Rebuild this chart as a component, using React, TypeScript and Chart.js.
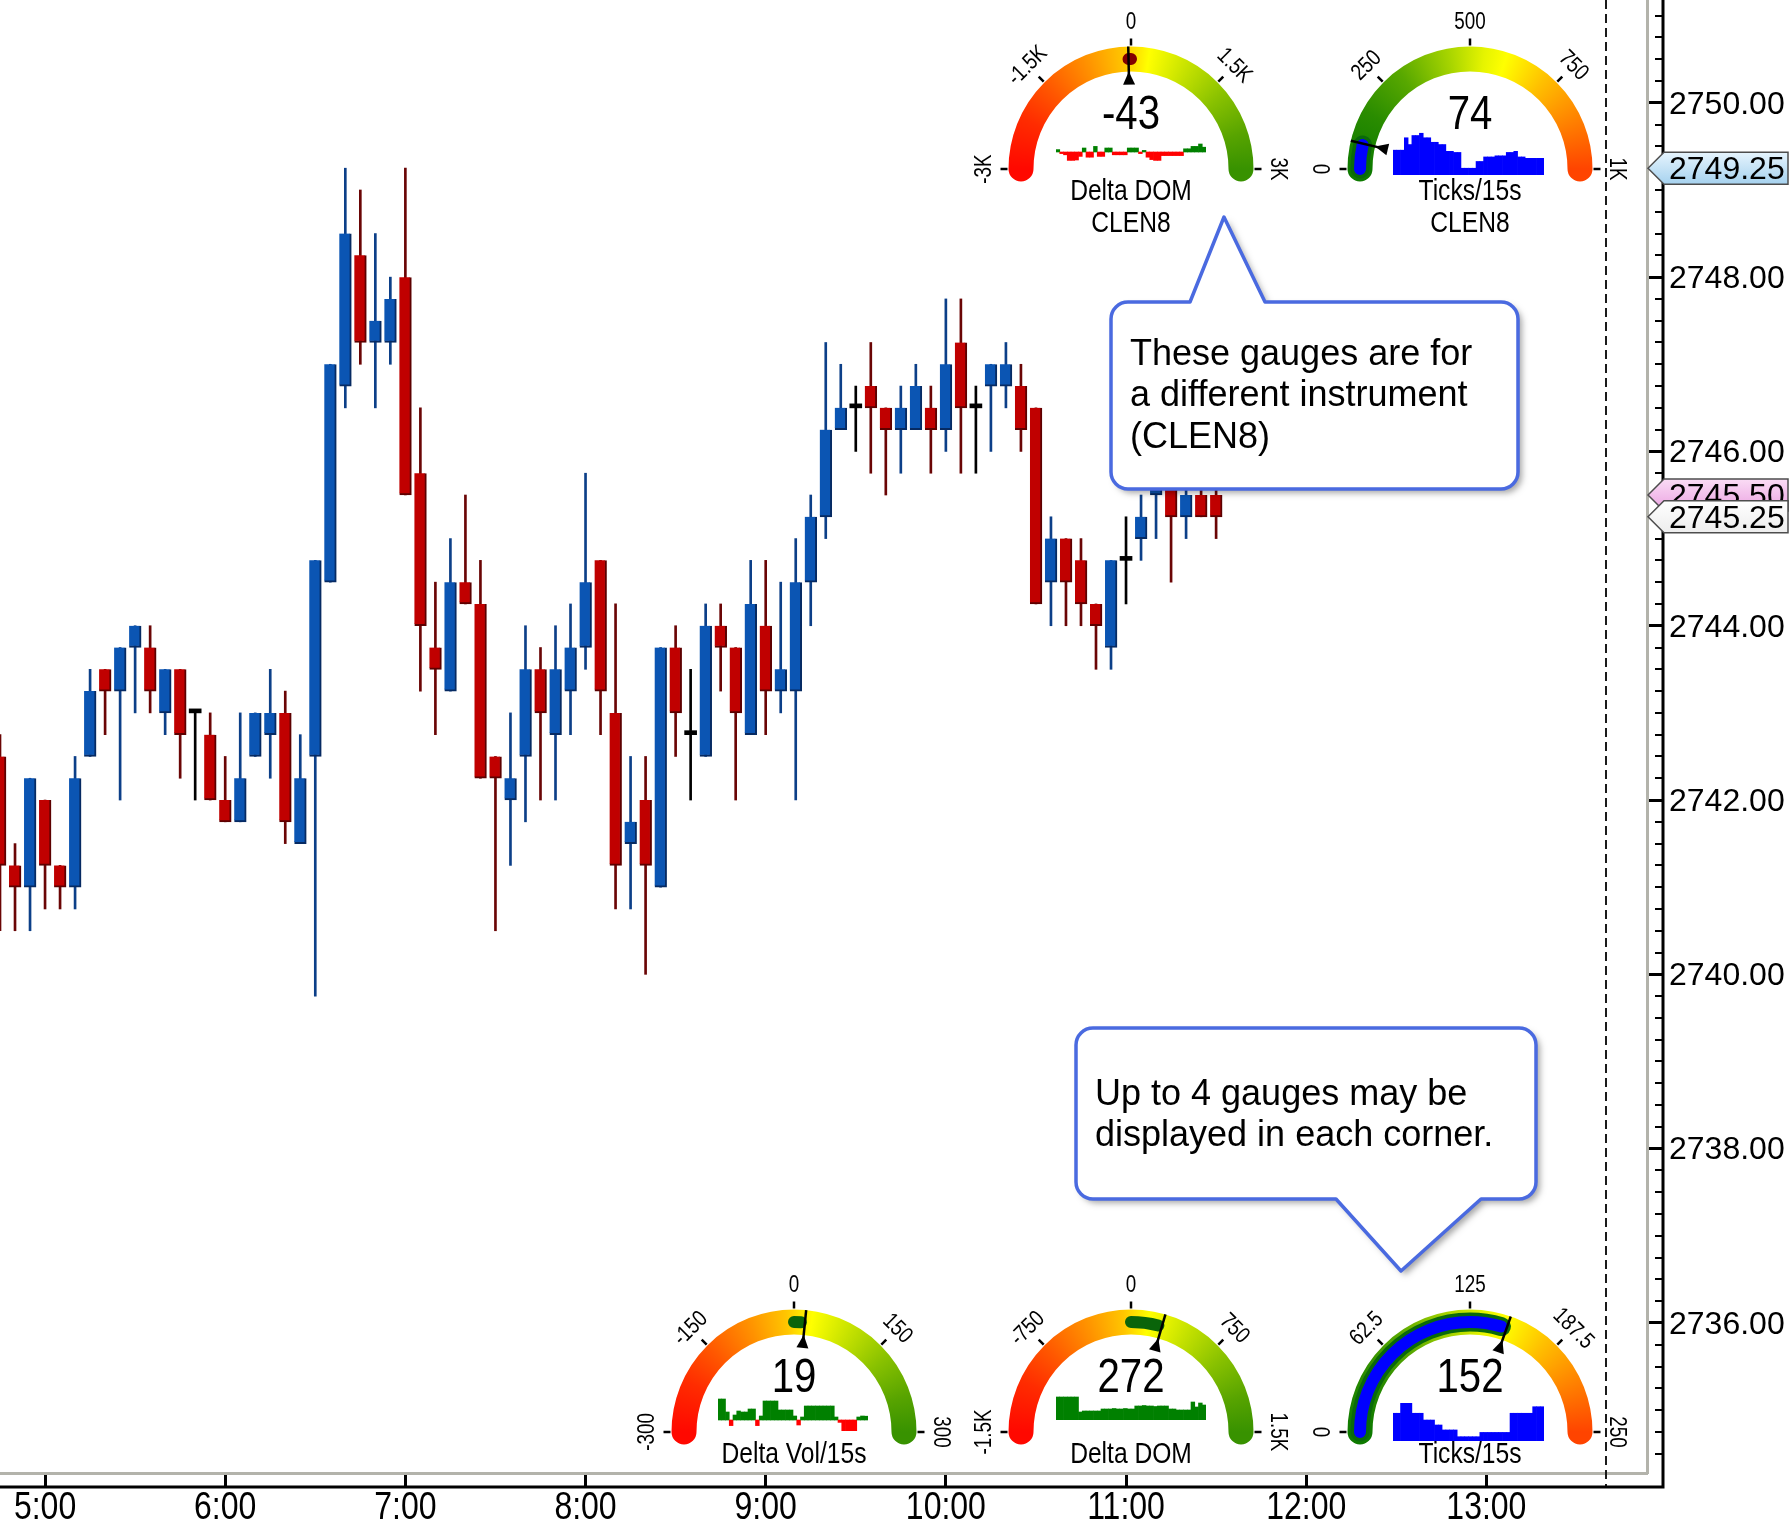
import React, { useEffect, useRef } from 'react';
import { Chart, registerables } from 'chart.js';

Chart.register(...registerables);

// ---------------- candle data (5-minute bars) ----------------
const times = ['4:45','4:50','4:55','5:00','5:05','5:10','5:15','5:20','5:25','5:30','5:35','5:40','5:45','5:50','5:55','6:00','6:05','6:10','6:15','6:20','6:25','6:30','6:35','6:40','6:45','6:50','6:55','7:00','7:05','7:10','7:15','7:20','7:25','7:30','7:35','7:40','7:45','7:50','7:55','8:00','8:05','8:10','8:15','8:20','8:25','8:30','8:35','8:40','8:45','8:50','8:55','9:00','9:05','9:10','9:15','9:20','9:25','9:30','9:35','9:40','9:45','9:50','9:55','10:00','10:05','10:10','10:15','10:20','10:25','10:30','10:35','10:40','10:45','10:50','10:55','11:00','11:05','11:10','11:15','11:20','11:25','11:30'];

const opens = [2742.5,2741.25,2741.0,2742.0,2741.25,2741.0,2742.5,2743.5,2743.25,2743.75,
  2743.75,2743.0,2743.5,2743.0,2742.75,2742.0,2741.75,2742.5,2742.75,2743.0,
  2741.5,2742.5,2744.5,2746.75,2748.25,2747.25,2747.25,2748.0,2745.75,2743.75,
  2743.25,2744.5,2744.25,2742.5,2742.0,2742.5,2743.5,2742.75,2743.25,2743.75,
  2744.75,2743.0,2741.5,2742.0,2741.0,2743.75,2742.75,2742.5,2744.0,2743.75,
  2742.75,2744.0,2743.25,2743.25,2744.5,2745.25,2746.25,2746.5,2746.75,2746.5,
  2746.25,2746.25,2746.5,2746.25,2747.25,2746.5,2746.75,2746.75,2746.75,2746.5,
  2744.5,2745.0,2744.75,2744.25,2743.75,2744.75,2745.0,2745.5,2745.75,2745.25,
  2745.5,2745.5];
const highs = [2742.75,2741.5,2742.25,2742.0,2741.25,2742.5,2743.5,2743.5,2743.75,2744.0,
  2744.0,2743.5,2743.5,2743.0,2743.0,2742.5,2743.0,2743.0,2743.5,2743.25,
  2742.75,2744.75,2747.0,2749.25,2749.0,2748.5,2748.0,2749.25,2746.5,2744.5,
  2745.0,2745.5,2744.75,2742.5,2743.0,2744.0,2743.75,2744.0,2744.25,2745.75,
  2744.75,2744.25,2742.5,2742.5,2743.75,2744.0,2743.5,2744.25,2744.25,2743.75,
  2744.75,2744.75,2744.5,2745.0,2745.5,2747.25,2747.0,2746.75,2747.25,2746.5,
  2746.75,2747.0,2746.75,2747.75,2747.75,2746.75,2747.0,2747.25,2747.0,2746.5,
  2745.25,2745.0,2745.0,2744.25,2744.75,2745.25,2745.5,2746.0,2746.0,2745.75,
  2745.75,2745.75];
const lows = [2740.5,2740.5,2740.5,2740.75,2740.75,2740.75,2742.5,2742.75,2742.0,2743.0,
  2743.0,2742.75,2742.25,2742.0,2742.0,2741.75,2741.75,2742.5,2742.25,2741.5,
  2741.5,2739.75,2744.5,2746.5,2747.0,2746.5,2747.0,2745.5,2743.25,2742.75,
  2743.25,2744.25,2742.25,2740.5,2741.25,2741.75,2742.0,2742.0,2742.75,2743.5,
  2742.75,2740.75,2740.75,2740.0,2741.0,2742.5,2742.0,2742.5,2743.25,2742.0,
  2742.75,2742.75,2743.0,2742.0,2744.0,2745.0,2746.25,2746.0,2745.75,2745.5,
  2745.75,2746.25,2745.75,2746.0,2745.75,2745.75,2746.0,2746.5,2746.0,2744.25,
  2744.0,2744.0,2744.0,2743.5,2743.5,2744.25,2744.75,2745.0,2744.5,2745.0,
  2745.25,2745.0];
const closes = [2741.25,2741.0,2742.25,2741.25,2741.0,2742.25,2743.25,2743.25,2743.75,2744.0,
  2743.25,2743.5,2742.75,2743.0,2742.0,2741.75,2742.25,2743.0,2743.0,2741.75,
  2742.25,2744.75,2747.0,2748.5,2747.25,2747.5,2747.75,2745.5,2744.0,2743.5,
  2744.5,2744.25,2742.25,2742.25,2742.25,2743.5,2743.0,2743.5,2743.75,2744.5,
  2743.25,2741.25,2741.75,2741.25,2743.75,2743.0,2742.75,2744.0,2743.75,2743.0,
  2744.25,2743.25,2743.5,2744.5,2745.25,2746.25,2746.5,2746.5,2746.5,2746.25,
  2746.5,2746.75,2746.25,2747.0,2746.5,2746.5,2747.0,2747.0,2746.25,2744.25,
  2745.0,2744.5,2744.25,2744.0,2744.75,2744.75,2745.25,2745.75,2745.25,2745.5,
  2745.25,2745.25];

const hourTicks = ['5:00','6:00','7:00','8:00','9:00','10:00','11:00','12:00','13:00'];
const priceTicks = [2736, 2738, 2740, 2742, 2744, 2746, 2748, 2750];
const markerPrices = [2749.25, 2745.5, 2745.25];
const sessionEndTime = '13:40';

const callout1Lines = ['These gauges are for', 'a different instrument', '(CLEN8)'];
const callout2Lines = ['Up to 4 gauges may be', 'displayed in each corner.'];

// ---------------- gauge data ----------------
const gaugeTitles = [['Delta DOM', 'CLEN8'], ['Ticks/15s', 'CLEN8'], ['Delta Vol/15s'], ['Delta DOM'], ['Ticks/15s']];
const gaugeMin = [-3000, 0, -300, -1500, 0];
const gaugeMax = [3000, 1000, 300, 1500, 250];
const gaugeTickLabels = [
  ['-3K', '-1.5K', '0', '1.5K', '3K'],
  ['0', '250', '500', '750', '1K'],
  ['-300', '-150', '0', '150', '300'],
  ['-1.5K', '-750', '0', '750', '1.5K'],
  ['0', '62.5', '125', '187.5', '250'],
];
const gaugeValues = [-43, 74, 19, 272, 152];
const gaugeRangeLo = [-43, 0, 0, 0, 0];
const gaugeRangeHi = [0, 70, 12, 240, 148];

const sparkDeltaDomClen8 = [60,-40,-70,-210,-210,-200,-110,100,-130,-130,140,-110,-110,100,100,-70,-70,-70,-70,100,100,100,-40,40,-130,-190,-210,-210,-90,-90,-90,-90,-90,-90,80,80,140,140,200,120];
const sparkTicksClen8 = [110,110,110,165,135,175,175,185,165,165,145,145,135,135,105,105,100,100,30,30,30,30,60,60,80,80,80,85,85,85,100,100,105,80,80,74,74,74,74,74];
const sparkDeltaVol = [105,105,40,-28,25,45,40,40,55,55,-28,20,95,95,95,95,50,50,50,50,20,-25,15,70,70,70,70,70,70,70,70,15,-12,-55,-55,-55,-55,15,20,19];
const sparkDeltaDom = [460,460,460,460,460,460,160,180,180,180,180,180,220,220,220,230,220,220,230,220,220,280,280,290,280,280,270,280,280,280,220,220,200,200,200,200,360,260,340,300];
const sparkTicks = [123,123,167,167,167,123,123,123,93,93,93,71,71,49,49,49,49,19,19,19,19,19,19,38,38,38,38,38,38,38,38,123,123,123,123,123,123,152,152,152];

// ---------------- layout / styles ----------------
const W = 1791, H = 1527;
const X_MIN = 285, X_MAX = 833.5;
const Y_MIN = 2734.278, Y_MAX = 2751.18;
const X_TICK_LEN = 14, Y_TICK_LEN = 16;
const AXIS_GRAY = '#b3b3ab';
const BASE_FONT = '"Liberation Sans", Arial, Helvetica, sans-serif';

const BULL = '#0b55b3', BULL_EDGE = '#062a62', BULL_WICK = '#0c3f88';
const BEAR = '#c00000', BEAR_EDGE = '#5c0000', BEAR_WICK = '#6a0505';

const toMin = (s: string) => { const [h, m] = s.split(':').map(Number); return h * 60 + m; };

let NARROW: string | null | undefined;
function narrowFamily(): string | null {
  if (NARROW !== undefined) return NARROW;
  NARROW = null;
  try {
    const c = document.createElement('canvas').getContext('2d') as CanvasRenderingContext2D;
    const t = 'Delta Vol/15s 0123456789';
    for (const name of ['Liberation Sans Narrow', 'Arial Narrow']) {
      c.font = '40px monospace';
      const a = c.measureText(t).width;
      c.font = `40px "${name}", monospace`;
      const b = c.measureText(t).width;
      if (Math.abs(a - b) > 0.5) { NARROW = `"${name}"`; break; }
    }
  } catch (e) { /* ignore */ }
  return NARROW;
}

function drawNarrow(ctx: any, text: string, x: number, y: number, size: number, rot = 0, align = 'center') {
  const fam = narrowFamily();
  ctx.save();
  ctx.translate(x, y);
  if (rot) ctx.rotate(rot);
  if (fam) {
    ctx.font = `${size}px ${fam}, ${BASE_FONT}`;
  } else {
    ctx.scale(0.82, 1);
    ctx.font = `${size}px ${BASE_FONT}`;
  }
  ctx.fillStyle = '#000';
  ctx.textAlign = align;
  ctx.textBaseline = 'middle';
  ctx.fillText(text, 0, 0);
  ctx.restore();
}

function calloutPath(ctx: any, x0: number, y0: number, x1: number, y1: number, r: number, side: string, b0: number, b1: number, tx: number, ty: number) {
  ctx.beginPath();
  ctx.moveTo(x0 + r, y0);
  if (side === 'top') { ctx.lineTo(b0, y0); ctx.lineTo(tx, ty); ctx.lineTo(b1, y0); }
  ctx.lineTo(x1 - r, y0);
  ctx.arcTo(x1, y0, x1, y0 + r, r);
  ctx.lineTo(x1, y1 - r);
  ctx.arcTo(x1, y1, x1 - r, y1, r);
  if (side === 'bottom') { ctx.lineTo(b1, y1); ctx.lineTo(tx, ty); ctx.lineTo(b0, y1); }
  ctx.lineTo(x0 + r, y1);
  ctx.arcTo(x0, y1, x0, y1 - r, r);
  ctx.lineTo(x0, y0 + r);
  ctx.arcTo(x0, y0, x0 + r, y0, r);
  ctx.closePath();
}

function drawCallout(ctx: any, box: number[], side: string, ptr: number[], lines: string[], textX: number, textY0: number, lineH: number) {
  const [x0, y0, x1, y1] = box;
  const [b0, b1, tx, ty] = ptr;
  ctx.save();
  calloutPath(ctx, x0, y0, x1, y1, 17, side, b0, b1, tx, ty);
  ctx.shadowColor = 'rgba(0,0,0,0.35)';
  ctx.shadowBlur = 6;
  ctx.shadowOffsetX = 4;
  ctx.shadowOffsetY = 4;
  ctx.fillStyle = '#ffffff';
  ctx.fill();
  ctx.shadowColor = 'transparent';
  ctx.lineWidth = 3.5;
  ctx.strokeStyle = '#4a6ae0';
  ctx.lineJoin = 'round';
  ctx.stroke();
  ctx.fillStyle = '#000';
  ctx.font = `36px ${BASE_FONT}`;
  ctx.textAlign = 'left';
  ctx.textBaseline = 'middle';
  lines.forEach((l, i) => ctx.fillText(l, textX, textY0 + i * lineH));
  ctx.restore();
}

const tagFills = [['#e6f4fd', '#a6d2ef'], ['#fadcf5', '#eaa2e1'], ['#ffffff', '#ededed']];

const overlayPlugin = {
  id: 'overlay',
  afterDraw(chart: any) {
    const { ctx, chartArea: ca, scales } = chart;
    const xs = scales.x, ys = scales.y;
    const axisX = ca.right + Y_TICK_LEN;
    const axisY = ca.bottom + X_TICK_LEN;
    ctx.save();
    // session end dashed line
    const dx = Math.round(xs.getPixelForValue(toMin(sessionEndTime)));
    ctx.setLineDash([9, 5]);
    ctx.strokeStyle = '#1a1a1a';
    ctx.lineWidth = 2;
    ctx.beginPath(); ctx.moveTo(dx, ca.top); ctx.lineTo(dx, axisY); ctx.stroke();
    ctx.setLineDash([]);
    // minor price ticks
    ctx.strokeStyle = '#000';
    ctx.lineWidth = 2;
    ctx.beginPath();
    for (let v = Math.ceil(ys.min * 4) / 4; v <= ys.max; v += 0.25) {
      const py = Math.round(ys.getPixelForValue(v));
      ctx.moveTo(axisX - 8, py); ctx.lineTo(axisX, py);
    }
    ctx.stroke();
    // outer black axis lines
    ctx.lineWidth = 3;
    ctx.beginPath(); ctx.moveTo(axisX, 0); ctx.lineTo(axisX, axisY); ctx.lineTo(0, axisY); ctx.stroke();
    // time tick labels (condensed face, positions from the x scale's ticks)
    xs.ticks.forEach((_t: any, i: number) => {
      drawNarrow(ctx, hourTicks[i], xs.getPixelForTick(i), axisY + 21, 39);
    });
    // price tags
    markerPrices.forEach((p, i) => {
      const py = ys.getPixelForValue(p);
      const x0 = ca.right + 1, xb = ca.right + 17, x1 = chart.width - 3, hh = 16;
      ctx.beginPath();
      ctx.moveTo(x0, py); ctx.lineTo(xb, py - hh); ctx.lineTo(x1, py - hh); ctx.lineTo(x1, py + hh); ctx.lineTo(xb, py + hh); ctx.closePath();
      const g = ctx.createLinearGradient(0, py - hh, 0, py + hh);
      g.addColorStop(0, tagFills[i][0]); g.addColorStop(1, tagFills[i][1]);
      ctx.fillStyle = g; ctx.fill();
      ctx.strokeStyle = '#4d4d4d'; ctx.lineWidth = 1.5; ctx.stroke();
      ctx.fillStyle = '#000'; ctx.font = `32px ${BASE_FONT}`; ctx.textAlign = 'left'; ctx.textBaseline = 'middle';
      ctx.fillText(p.toFixed(2), ca.right + Y_TICK_LEN + 6, py + 2);
    });
    // callouts
    drawCallout(ctx, [1111, 302, 1518, 489], 'top', [1190, 1265, 1224, 217], callout1Lines, 1130, 355, 41.5);
    drawCallout(ctx, [1076, 1028, 1536, 1199], 'bottom', [1336, 1481, 1401, 1271], callout2Lines, 1095, 1095, 41.5);
    ctx.restore();
  },
};

function MainChart() {
  const ref = useRef<HTMLCanvasElement>(null);
  useEffect(() => {
    const xs = times.map(toMin);
    const dir = closes.map((c, i) => (c > opens[i] ? 1 : c < opens[i] ? -1 : 0));
    const chart = new Chart(ref.current as HTMLCanvasElement, {
      type: 'bar',
      data: {
        datasets: [
          {
            label: 'body',
            data: xs.map((x, i) => ({ x, y: [opens[i], closes[i]] })) as any,
            backgroundColor: dir.map((d) => (d > 0 ? BULL : d < 0 ? BEAR : '#000')),
            borderColor: dir.map((d) => (d > 0 ? BULL_EDGE : d < 0 ? BEAR_EDGE : '#000')),
            borderWidth: (c: any) => (dir[c.dataIndex] === 0 ? 0 : { top: 0, left: 0, right: 2, bottom: 2 }),
            borderSkipped: false,
            barThickness: 12,
            minBarLength: 4,
            grouped: false,
            order: 0,
          } as any,
          {
            label: 'wick',
            data: xs.map((x, i) => ({ x, y: [lows[i], highs[i]] })) as any,
            backgroundColor: dir.map((d) => (d > 0 ? BULL_WICK : d < 0 ? BEAR_WICK : '#000')),
            borderWidth: 0,
            barThickness: 2,
            grouped: false,
            order: 1,
          } as any,
        ],
      },
      options: {
        responsive: false,
        animation: false,
        devicePixelRatio: 1,
        events: [],
        layout: { padding: 0 },
        plugins: { legend: { display: false }, tooltip: { enabled: false } },
        scales: {
          x: {
            type: 'linear',
            position: 'bottom',
            min: X_MIN,
            max: X_MAX,
            offset: false,
            afterBuildTicks: (s: any) => { s.ticks = hourTicks.map((t) => ({ value: toMin(t) })); },
            afterFit: (s: any) => { s.height = H - 1473; s.paddingLeft = 0; s.paddingRight = 0; },
            grid: { drawOnChartArea: false, drawTicks: true, tickLength: X_TICK_LEN, tickWidth: 3, tickColor: '#000', offset: false },
            border: { display: true, color: AXIS_GRAY, width: 3 },
            ticks: {
              display: false,
              autoSkip: false,
              maxRotation: 0,
              callback: (_v: any, i: number) => hourTicks[i],
            },
          } as any,
          y: {
            type: 'linear',
            position: 'right',
            min: Y_MIN,
            max: Y_MAX,
            afterBuildTicks: (s: any) => { s.ticks = priceTicks.map((v) => ({ value: v })); },
            afterFit: (s: any) => { s.width = W - 1647; s.paddingTop = 0; s.paddingBottom = 0; },
            grid: { drawOnChartArea: false, drawTicks: true, tickLength: Y_TICK_LEN, tickWidth: 3, tickColor: '#000' },
            border: { display: true, color: AXIS_GRAY, width: 3 },
            ticks: {
              autoSkip: false,
              padding: 6,
              labelOffset: 2,
              color: '#000',
              font: { family: BASE_FONT, size: 32 },
              callback: (v: any) => Number(v).toFixed(2),
            },
          } as any,
        },
      } as any,
      plugins: [overlayPlugin],
    });
    return () => chart.destroy();
  }, []);
  return <canvas ref={ref} width={W} height={H} style={{ position: 'absolute', left: 0, top: 0, width: W, height: H, display: 'block' }} />;
}

// ---------------- gauges ----------------
const GW = 340, GH = 250, GCX = 170, GCY = 175;
const GR = 110, GT = 25, LABEL_R = 146;

const deltaStops: [number, string][] = [[0, '#ff0800'], [0.07, '#ff2c00'], [0.125, '#ff5800'], [0.19, '#ff9400'], [0.24, '#ffc600'], [0.275, '#ffff00'], [0.33, '#c6e200'], [0.39, '#8ac200'], [0.45, '#58a400'], [0.5, '#389200'], [0.75, '#389200'], [0.75, '#ff0800'], [1, '#ff0800']];
const ticksStops: [number, string][] = [[0, '#0e7a00'], [0.08, '#2a8c00'], [0.15, '#58a800'], [0.22, '#a6d400'], [0.27, '#e6f400'], [0.3, '#ffff00'], [0.36, '#ffc000'], [0.42, '#ff8a00'], [0.5, '#ff4400'], [0.75, '#ff4400'], [0.75, '#0e7a00'], [1, '#0e7a00']];

const gaugeCenters = [[1131, 169], [1470, 169], [794, 1432], [1131, 1432], [1470, 1432]];
const sparkRects = [[-75, -27, 75, -7], [-77, -38, 74, 6], [-76, -38, 74, -1], [-75, -40, 75, -12], [-77, -37, 74, 9]];
const sparkRanges = [[-250, 250], [0, 195], [-55, 130], [0, 560], [0, 204]];
const sparkSeries = [sparkDeltaDomClen8, sparkTicksClen8, sparkDeltaVol, sparkDeltaDom, sparkTicks];
const gaugeKinds = ['delta', 'ticks', 'delta', 'delta', 'ticks'];

const gauges = gaugeTitles.map((title, i) => {
  const isTicks = gaugeKinds[i] === 'ticks';
  const positive = gaugeValues[i] >= 0;
  return {
    cx: gaugeCenters[i][0], cy: gaugeCenters[i][1],
    min: gaugeMin[i], max: gaugeMax[i],
    tickLabels: gaugeTickLabels[i],
    value: gaugeValues[i],
    title,
    lo: gaugeRangeLo[i], hi: gaugeRangeHi[i],
    rangeColor: isTicks ? '#0000ff' : positive ? '#0a640a' : '#820000',
    rangeEdge: isTicks ? '#0a6a0a' : null,
    stops: isTicks ? ticksStops : deltaStops,
    spark: sparkSeries[i],
    sparkRect: sparkRects[i],
    sparkMin: sparkRanges[i][0], sparkMax: sparkRanges[i][1],
    pos: isTicks ? '#0000ff' : '#008000',
    neg: '#ff0000',
  };
});

function gaugePlugin(g: any) {
  return {
    id: 'gaugeFace',
    afterDraw(chart: any) {
      const ctx = chart.ctx;
      const cx = GCX, cy = GCY;
      const span = g.max - g.min;
      const ang = (v: number) => Math.PI + (Math.PI * (Math.max(g.min, Math.min(g.max, v)) - g.min)) / span;
      ctx.save();
      // colour band
      let grad: any;
      if (typeof ctx.createConicGradient === 'function') {
        grad = ctx.createConicGradient(Math.PI, cx, cy);
        g.stops.forEach(([o, c]: [number, string]) => grad.addColorStop(o, c));
      } else {
        grad = ctx.createLinearGradient(cx - GR, 0, cx + GR, 0);
        g.stops.filter(([o]: [number, string]) => o <= 0.5).forEach(([o, c]: [number, string]) => grad.addColorStop(o * 2, c));
      }
      ctx.lineCap = 'round';
      ctx.lineWidth = GT;
      ctx.strokeStyle = grad;
      ctx.beginPath(); ctx.arc(cx, cy, GR, Math.PI, 2 * Math.PI); ctx.stroke();
      // recent range arc
      const a0 = ang(g.lo), a1 = ang(g.hi) + 0.0001;
      if (g.rangeEdge) {
        ctx.lineWidth = 19; ctx.strokeStyle = g.rangeEdge;
        ctx.beginPath(); ctx.arc(cx, cy, GR, a0, a1); ctx.stroke();
      }
      ctx.lineWidth = 12; ctx.strokeStyle = g.rangeColor;
      ctx.beginPath(); ctx.arc(cx, cy, GR, a0, a1); ctx.stroke();
      // ticks + labels
      ctx.lineCap = 'butt';
      ctx.strokeStyle = '#000';
      ctx.lineWidth = 2.5;
      for (let i = 0; i < 5; i++) {
        const a = Math.PI + (Math.PI * i) / 4;
        const c = Math.cos(a), s = Math.sin(a);
        ctx.beginPath();
        ctx.moveTo(cx + c * (GR + GT / 2 + 1), cy + s * (GR + GT / 2 + 1));
        ctx.lineTo(cx + c * (GR + GT / 2 + 8), cy + s * (GR + GT / 2 + 8));
        ctx.stroke();
        drawNarrow(ctx, g.tickLabels[i], cx + c * LABEL_R, cy + s * LABEL_R, 23, a + Math.PI / 2);
      }
      // needle
      const a = ang(g.value), c = Math.cos(a), s = Math.sin(a);
      const rin = GR - GT / 2;
      ctx.lineWidth = 2.5;
      ctx.beginPath();
      ctx.moveTo(cx + c * (GR + GT / 2), cy + s * (GR + GT / 2));
      ctx.lineTo(cx + c * (rin - 8), cy + s * (rin - 8));
      ctx.stroke();
      const px = -s, py = c;
      ctx.beginPath();
      ctx.moveTo(cx + c * rin, cy + s * rin);
      ctx.lineTo(cx + c * (rin - 13) + px * 6, cy + s * (rin - 13) + py * 6);
      ctx.lineTo(cx + c * (rin - 13) - px * 6, cy + s * (rin - 13) - py * 6);
      ctx.closePath();
      ctx.fillStyle = '#000';
      ctx.fill();
      // value + titles
      drawNarrow(ctx, String(g.value), cx, cy - 54, 49);
      g.title.forEach((t: string, i: number) => drawNarrow(ctx, t, cx, cy + 23 + i * 32, 30));
      ctx.restore();
    },
  };
}

function GaugeChart({ g }: { g: any }) {
  const ref = useRef<HTMLCanvasElement>(null);
  useEffect(() => {
    const [x0, y0, x1, y1] = g.sparkRect;
    const chart = new Chart(ref.current as HTMLCanvasElement, {
      type: 'bar',
      data: {
        labels: g.spark.map((_: number, i: number) => String(i + 1)),
        datasets: [{
          data: g.spark,
          backgroundColor: g.spark.map((v: number) => (v >= 0 ? g.pos : g.neg)),
          borderWidth: 0,
          barPercentage: 1,
          categoryPercentage: 1,
        }],
      },
      options: {
        responsive: false,
        animation: false,
        devicePixelRatio: 1,
        events: [],
        layout: { padding: { left: GCX + x0, right: GW - (GCX + x1), top: GCY + y0, bottom: GH - (GCY + y1) } },
        scales: {
          x: { display: false },
          y: { display: false, min: g.sparkMin, max: g.sparkMax },
        },
        plugins: { legend: { display: false }, tooltip: { enabled: false } },
      } as any,
      plugins: [gaugePlugin(g)],
    });
    return () => chart.destroy();
  }, [g]);
  return <canvas ref={ref} width={GW} height={GH} style={{ position: 'absolute', left: g.cx - GCX, top: g.cy - GCY, width: GW, height: GH }} />;
}

export default function App() {
  return (
    <div style={{ position: 'relative', width: W, height: H, overflow: 'hidden', background: '#fff' }}>
      <style>{'html,body{margin:0;padding:0;overflow:hidden;background:#fff;}'}</style>
      <MainChart />
      {gauges.map((g, i) => <GaugeChart key={i} g={g} />)}
    </div>
  );
}
